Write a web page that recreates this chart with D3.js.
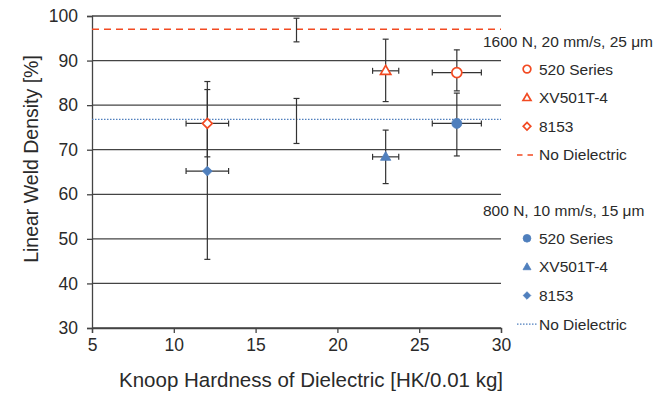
<!DOCTYPE html>
<html><head><meta charset="utf-8">
<script src="https://cdn.jsdelivr.net/npm/d3@7"></script>
<style>
body{margin:0;background:#fff}
svg{display:block}
text{font-family:"Liberation Sans",Arial,Helvetica,sans-serif;fill:#2a2a2a}
</style>
</head><body>
<svg id="chart" width="672" height="395"></svg>
<script>
// Dielectric materials and their Knoop hardness (mean, ± spread)
const materials = ["520 Series", "XV501T-4", "8153"];
const hardness = [27.3, 22.95, 12.05];
const hardnessErr = [1.5, 0.8, 1.3];

// 1600 N, 20 mm/s, 25 µm : mean, lower and upper bounds
const highValues = [87.3, 87.7, 75.9];
const highLow = [83.2, 80.8, 68.4];
const highHigh = [92.4, 94.8, 85.3];

// 800 N, 10 mm/s, 15 µm : mean, lower and upper bounds
const lowValues = [75.9, 68.4, 65.2];
const lowLow = [68.6, 62.4, 45.4];
const lowHigh = [82.7, 74.4, 83.5];

// Welds without dielectric: [mean, lower, upper], bar shown at this hardness
const noDielectricX = 17.5;
const highBaseline = [97.0, 94.2, 99.5];
const lowBaseline = [76.8, 71.4, 81.5];

const xTicks = [5, 10, 15, 20, 25, 30];
const yTicks = [30, 40, 50, 60, 70, 80, 90, 100];

const groupTitles = ["1600 N, 20 mm/s, 25 \u03bcm", "800 N, 10 mm/s, 15 \u03bcm"];
const baselineLabel = "No Dielectric";

const ORANGE = "#f24a22";
const BLUE = "#4f7fbd";
const INK = "#444";

const svg = d3.select("#chart");
const x = d3.scaleLinear().domain([5, 30]).range([92, 501]);
const y = d3.scaleLinear().domain([30, 100]).range([328, 16]);

// horizontal gridlines
svg.append("g").selectAll("line").data(yTicks).join("line")
  .attr("x1", x(5)).attr("x2", x(30))
  .attr("y1", d => y(d)).attr("y2", d => y(d))
  .attr("stroke", INK).attr("stroke-width", 1.3);

// axes
const yAxis = svg.append("g").attr("transform", `translate(${x(5)},0)`)
  .call(d3.axisLeft(y).tickValues(yTicks).tickSize(5).tickPadding(9));
const xAxis = svg.append("g").attr("transform", `translate(0,${y(30)})`)
  .call(d3.axisBottom(x).tickValues(xTicks).tickSize(5).tickPadding(6));
[yAxis, xAxis].forEach(a => {
  a.select(".domain").attr("stroke", INK).attr("stroke-width", 1.3);
  a.selectAll(".tick line").attr("stroke", INK).attr("stroke-width", 1.3);
  a.selectAll(".tick text").style("font-size", "17.5px")
    .style("font-family", "'Liberation Sans',Arial,sans-serif").attr("fill", "#2a2a2a");
});

// axis titles
svg.append("text").attr("x", 311).attr("y", 387).attr("text-anchor", "middle")
  .style("font-size", "20.5px").text("Knoop Hardness of Dielectric [HK/0.01 kg]");
svg.append("text").attr("transform", "translate(38,159) rotate(-90)")
  .attr("text-anchor", "middle").style("font-size", "19.5px")
  .text("Linear Weld Density [%]");

// no-dielectric reference lines
svg.append("line").attr("x1", x(5)).attr("x2", x(30))
  .attr("y1", y(highBaseline[0])).attr("y2", y(highBaseline[0]))
  .attr("stroke", ORANGE).attr("stroke-width", 1.5).attr("stroke-dasharray", "7,5");
svg.append("line").attr("x1", x(5)).attr("x2", x(30))
  .attr("y1", y(lowBaseline[0])).attr("y2", y(lowBaseline[0]))
  .attr("stroke", BLUE).attr("stroke-width", 1.3).attr("stroke-dasharray", "1.5,1.5");

// error bars
const bars = svg.append("g").attr("stroke", "#333").attr("stroke-width", 1.2).attr("fill", "none");
const CAP = 3;
function vBar(cx, lo, hi) {
  bars.append("line").attr("x1", x(cx)).attr("x2", x(cx)).attr("y1", y(lo)).attr("y2", y(hi));
  [lo, hi].forEach(v => bars.append("line").attr("x1", x(cx) - CAP).attr("x2", x(cx) + CAP)
    .attr("y1", y(v)).attr("y2", y(v)));
}
function hBar(cy, lo, hi) {
  bars.append("line").attr("x1", x(lo)).attr("x2", x(hi)).attr("y1", y(cy)).attr("y2", y(cy));
  [lo, hi].forEach(v => bars.append("line").attr("x1", x(v)).attr("x2", x(v))
    .attr("y1", y(cy) - CAP).attr("y2", y(cy) + CAP));
}
vBar(noDielectricX, highBaseline[1], highBaseline[2]);
vBar(noDielectricX, lowBaseline[1], lowBaseline[2]);
materials.forEach((m, i) => {
  vBar(hardness[i], highLow[i], highHigh[i]);
  vBar(hardness[i], lowLow[i], lowHigh[i]);
  hBar(highValues[i], hardness[i] - hardnessErr[i], hardness[i] + hardnessErr[i]);
  hBar(lowValues[i], hardness[i] - hardnessErr[i], hardness[i] + hardnessErr[i]);
});

// marker shapes per material
const shapes = [d3.symbolCircle, d3.symbolTriangle, d3.symbolSquare];
const sizes = [78, 46, 48];
function marker(g, i, scale, hollow) {
  const p = g.append("path")
    .attr("d", d3.symbol(shapes[i], sizes[i] * scale)())
    .attr("fill", hollow ? "#fff" : BLUE)
    .attr("stroke", hollow ? ORANGE : BLUE)
    .attr("stroke-width", hollow ? 1.7 : 0.8);
  if (i === 2) p.attr("transform", "rotate(45)");
  if (i === 1) p.attr("transform", "translate(0,0.5)");
  return p;
}
const pts = svg.append("g");
materials.forEach((m, i) => {
  marker(pts.append("g").attr("transform", `translate(${x(hardness[i])},${y(lowValues[i])})`), i, 1, false);
  marker(pts.append("g").attr("transform", `translate(${x(hardness[i])},${y(highValues[i])})`), i, 1, true);
});

// legend
const legend = svg.append("g").style("font-size", "15.5px");
[41.5, 210.7].forEach((ty, gi) => {
  legend.append("text").attr("x", 483).attr("y", ty + 5.5).text(groupTitles[gi]);
  materials.forEach((m, i) => {
    const cy = ty + 27.6 + i * 28.6;
    marker(legend.append("g").attr("transform", `translate(527,${cy})`), i, 0.6, gi === 0);
    legend.append("text").attr("x", 539).attr("y", cy + 5.5).text(m);
  });
  const ly = ty + 27.6 + 3 * 28.6;
  legend.append("line").attr("x1", 517).attr("x2", gi === 0 ? 533 : 537).attr("y1", ly).attr("y2", ly)
    .attr("stroke", gi === 0 ? ORANGE : BLUE).attr("stroke-width", gi === 0 ? 1.5 : 1.2)
    .attr("stroke-dasharray", gi === 0 ? "5.5,5" : "1.5,1.5");
  legend.append("text").attr("x", 539).attr("y", ly + 5.5).text(baselineLabel);
});
</script>
</body></html>
